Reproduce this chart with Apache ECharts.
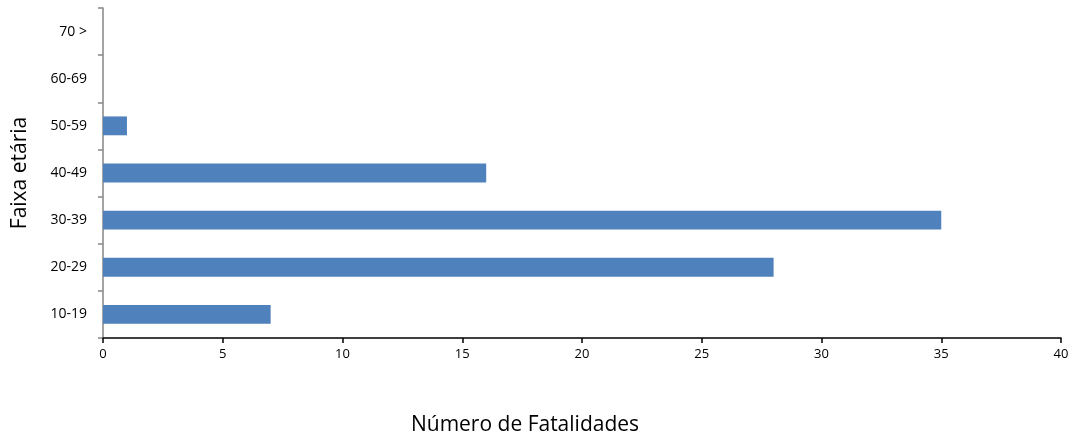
<!DOCTYPE html>
<html>
<head>
<meta charset="utf-8">
<script src="https://cdn.jsdelivr.net/npm/echarts@6/dist/echarts.min.js"></script>
<style>
  html, body { margin: 0; padding: 0; background: #fff; }
  #chart { width: 1075px; height: 439px; }
</style>
</head>
<body>
<div id="chart"></div>
<script>
// faixas etárias (de baixo para cima)
const faixas = ['10-19', '20-29', '30-39', '40-49', '50-59', '60-69', '70 >'];
const fatalidades = [7, 28, 35, 16, 1, 0, 0];
const xTicks = [0, 5, 10, 15, 20, 25, 30, 35, 40];

const myChart = echarts.init(document.getElementById('chart'));

const option = {
  animation: false,
  textStyle: { fontFamily: 'Open Sans, Liberation Sans, sans-serif' },
  grid: { left: 103, right: 14, top: 8, bottom: 101, outerBoundsMode: 'none', containLabel: false },
  xAxis: {
    type: 'value',
    min: xTicks[0],
    max: xTicks[xTicks.length - 1],
    interval: 5,
    name: 'Número de Fatalidades',
    nameLocation: 'middle',
    nameGap: 77,
    // título um pouco à esquerda do centro do gráfico
    nameTextStyle: { fontSize: 21, color: '#000', padding: [0, 114, 0, 0] },
    axisLine: { show: true, lineStyle: { color: '#000', width: 1.5 } },
    axisTick: { show: true, length: 5, lineStyle: { color: '#000', width: 1.5 } },
    axisLabel: { fontSize: 13, color: '#000', margin: 10 },
    splitLine: { show: false }
  },
  yAxis: {
    type: 'category',
    data: faixas,
    name: 'Faixa etária',
    nameLocation: 'middle',
    nameRotate: 90,
    nameGap: 72,
    nameTextStyle: { fontSize: 21, color: '#000' },
    axisLine: { show: true, lineStyle: { color: '#868686', width: 1.5 } },
    axisTick: { show: true, alignWithLabel: false, length: 5, lineStyle: { color: '#868686', width: 1.5 } },
    axisLabel: { fontSize: 14, color: '#000', margin: 16 }
  },
  series: [
    {
      name: 'Fatalidades',
      type: 'bar',
      data: fatalidades,
      barWidth: '40%',
      itemStyle: { color: '#4F81BD' }
    }
  ]
};

myChart.setOption(option);
</script>
</body>
</html>
